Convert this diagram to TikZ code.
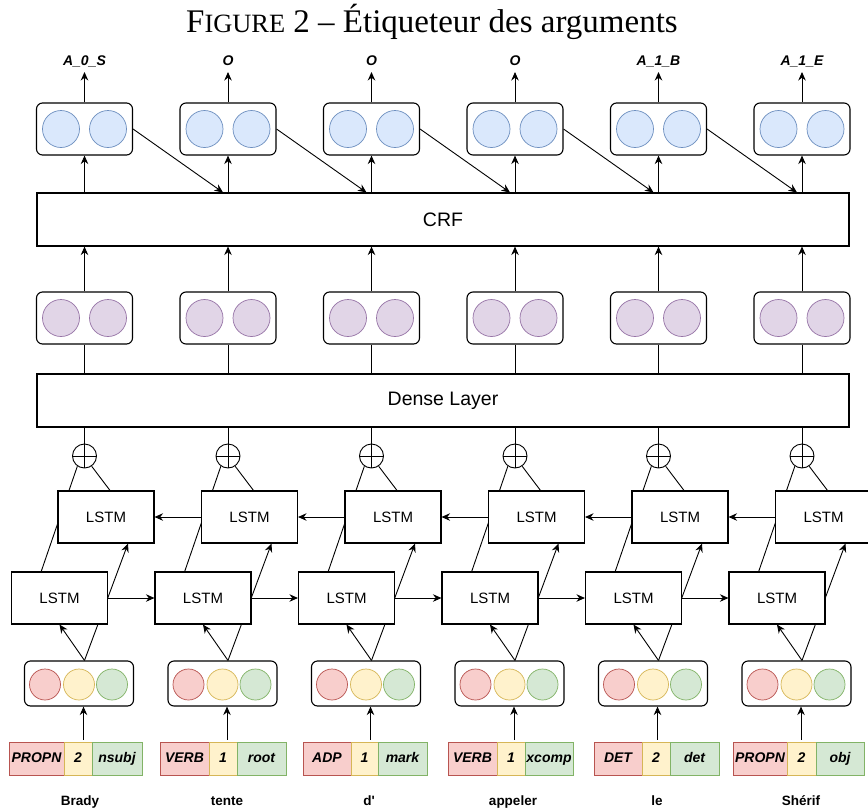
\documentclass[tikz,border=0pt]{standalone}
\usepackage{fontspec}
\setmainfont{Liberation Serif}
\newfontfamily\arial{Liberation Sans}
\usetikzlibrary{arrows.meta,calc,backgrounds}
\definecolor{bluefill}{HTML}{DAE8FC}\definecolor{blueline}{HTML}{6C8EBF}
\definecolor{purpfill}{HTML}{E1D5E7}\definecolor{purpline}{HTML}{9673A6}
\definecolor{redfill}{HTML}{F8CECC}\definecolor{redline}{HTML}{B85450}
\definecolor{yelfill}{HTML}{FFF2CC}\definecolor{yelline}{HTML}{D6B656}
\definecolor{grnfill}{HTML}{D5E8D4}\definecolor{grnline}{HTML}{82B366}
\begin{document}
\begin{tikzpicture}[x=1pt,y=-1pt,
  box/.style={draw, line width=1.1pt, inner sep=0pt, fill=white},
  pairbox/.style={box, rounded corners=6pt, minimum width=96pt, minimum height=52pt},
  inbox/.style={box, rounded corners=6pt, minimum width=109pt, minimum height=45pt},
  widebox/.style={box, minimum width=812pt, minimum height=53pt, font=\arial\fontsize{19.5}{22}\selectfont},
  lstm/.style={box, minimum width=96pt, minimum height=52pt, font=\arial\fontsize{15}{17}\selectfont},
  dot/.style={circle, draw, line width=0.7pt, inner sep=0pt, minimum size=37pt},
  sdot/.style={circle, draw, line width=0.7pt, inner sep=0pt, minimum size=31pt},
  tagbox/.style={draw, line width=0.8pt, inner sep=0pt, minimum height=33pt, text height=10pt, text depth=3pt,
     font=\arial\bfseries\itshape\fontsize{14}{16}\selectfont},
  lbl/.style={inner sep=0pt, font=\arial\bfseries\itshape\fontsize{14}{16}\selectfont},
  word/.style={inner sep=0pt, font=\arial\bfseries\fontsize{13.5}{16}\selectfont},
  oplus/.style={circle, draw, line width=0.9pt, inner sep=0pt, minimum size=24pt,
     path picture={\draw[line width=0.9pt] (path picture bounding box.north) -- (path picture bounding box.south)
        (path picture bounding box.west) -- (path picture bounding box.east);}},
  arr/.style={-{Stealth[length=8.5pt,width=7.5pt]}, line width=0.9pt},
  ln/.style={line width=0.9pt}]
\useasboundingbox (0,0) rectangle (868,809);
\clip (0,0) rectangle (868,809);

\node[anchor=base, font=\fontsize{33}{36}\selectfont] (title) at (432,32)
  {F{\fontsize{26.4}{30}\selectfont IGURE} 2 – Étiqueteur des arguments};

\node[widebox] (crf) at (443,219.5) {CRF};
\node[widebox] (dense) at (443,400.5) {Dense Layer};

\foreach \i/\lab in {1/A\_0\_S,2/O,3/O,4/O,5/A\_1\_B,6/A\_1\_E} {
  \pgfmathsetmacro\cx{84.5+143.5*(\i-1)}
  % output pair boxes
  \node[pairbox] (b\i) at (\cx,129) {};
  \node[dot, fill=bluefill, draw=blueline] (bl\i) at ($(b\i)+(-23.5,0)$) {};
  \node[dot, fill=bluefill, draw=blueline] (br\i) at ($(b\i)+(23.5,0)$) {};
  \node[lbl, anchor=base] (l\i) at (\cx,65) {\lab};
  \draw[arr] (b\i.north) -- ($(l\i.base)+(0,7)$);
  \draw[arr] (b\i.south |- crf.north) -- (b\i.south);
  % dense pair boxes
  \node[pairbox] (p\i) at (\cx,318) {};
  \node[dot, fill=purpfill, draw=purpline] (pl\i) at ($(p\i)+(-23.5,0)$) {};
  \node[dot, fill=purpfill, draw=purpline] (pr\i) at ($(p\i)+(23.5,0)$) {};
  \draw[arr] (p\i.north) -- (p\i.north |- crf.south);
  \draw[ln] (p\i.south) -- (p\i.south |- dense.north);
  % oplus
  \node[oplus] (op\i) at (\cx,456) {};
  \draw[ln] (op\i.north |- dense.south) -- (op\i.north);
  % LSTMs
  \node[lstm] (up\i) at (\cx+21.5,517) {LSTM};
  \node[lstm] (lo\i) at (\cx-25,598) {LSTM};
  \draw[ln] (op\i.305) -- ($(up\i.north)+(4,0)$);
  % input box
  \node[inbox] (in\i) at (\cx-5.5,683.5) {};
  \node[sdot, fill=redfill, draw=redline] (ir\i) at ($(in\i)+(-34,1)$) {};
  \node[sdot, fill=yelfill, draw=yelline] (iy\i) at ($(in\i)+(0,1)$) {};
  \node[sdot, fill=grnfill, draw=grnline] (ig\i) at ($(in\i)+(33,1)$) {};
  \draw[arr] ($(in\i.north)+(5.5,0)$) -- (lo\i.south);
  \draw[arr] ($(in\i.south)+(4.5,33)$) -- ($(in\i.south)+(4.5,0)$);
  \begin{scope}[on background layer]
    \draw[ln] (op\i.235) -- ($(lo\i.north)+(-18.3,0)$);
    \draw[arr] ($(in\i.north)+(5.5,0)$) -- ($(up\i.south)+(22,0)$);
  \end{scope}
}

\foreach \i in {1,...,5} {
  \pgfmathtruncatemacro\j{\i+1}
  \draw[arr] (b\i.east) -- ($(b\j.south |- crf.north)+(-5,0)$);
  \draw[arr] (lo\i.east) -- (lo\j.west);
  \draw[arr] (up\j.west) -- (up\i.east);
}

\foreach \i/\a/\b/\d/\e/\rt/\yt/\gt in {
  1/9/64/92/142/PROPN/2/nsubj,
  2/160/209/237/286/VERB/1/root,
  3/303/351/378/427/ADP/1/mark,
  4/448/497/525/573/VERB/1/xcomp,
  5/594/642/670/719/DET/2/det,
  6/733/787/816/864/PROPN/2/obj} {
  \pgfmathsetmacro\rw{\b-\a}\pgfmathsetmacro\rc{(\a+\b)/2}
  \pgfmathsetmacro\yw{\d-\b}\pgfmathsetmacro\yc{(\b+\d)/2}
  \pgfmathsetmacro\gw{\e-\d}\pgfmathsetmacro\gc{(\d+\e)/2}
  \node[tagbox, fill=redfill, draw=redline, minimum width=\rw pt] (tr\i) at (\rc,758.5) {\rt};
  \node[tagbox, fill=yelfill, draw=yelline, minimum width=\yw pt] (ty\i) at (\yc,758.5) {\yt};
  \node[tagbox, fill=grnfill, draw=grnline, minimum width=\gw pt] (tg\i) at (\gc,758.5) {\gt};
}

\foreach \i/\w/\x in {1/Brady/80,2/tente/227,3/d'/369,4/appeler/513,5/le/657,6/Shérif/801} {
  \node[word, anchor=base] (w\i) at (\x,805) {\w};
}
\end{tikzpicture}
\end{document}
